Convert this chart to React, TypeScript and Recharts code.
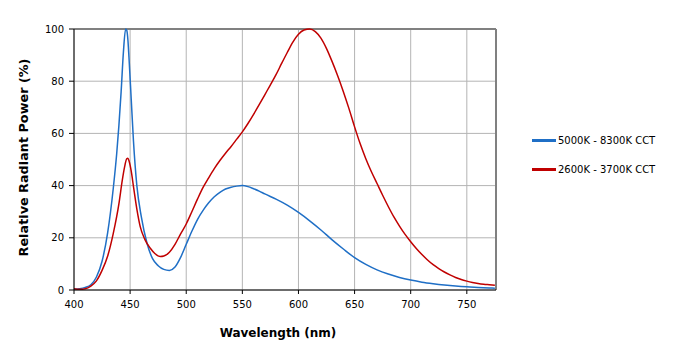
import { LineChart, Line, XAxis, YAxis, CartesianGrid, ReferenceLine } from "recharts"

// wavelength (nm) / relative power (%)
const coolNm = [400, 405, 410, 415, 420, 425, 430, 435, 438, 440, 442, 444, 446, 447, 448, 449, 451, 453, 456, 460, 465, 470, 475, 480, 485, 490, 495, 500, 505, 510, 515, 520, 525, 530, 535, 540, 545, 550, 555, 560, 565, 570, 580, 590, 600, 610, 620, 630, 640, 650, 660, 670, 680, 690, 700, 710, 720, 730, 740, 750, 760, 770, 775]
const coolPower = [0.3, 0.5, 1, 2, 5, 11, 22, 39, 52, 63, 76, 91, 100, 99.5, 96, 89, 73, 57, 40, 28, 18, 12, 9.3, 7.9, 7.5, 8.8, 12.5, 17.5, 22.5, 27, 30.5, 33.4, 35.7, 37.4, 38.7, 39.4, 39.8, 40, 39.6, 38.8, 37.9, 36.8, 34.8, 32.5, 29.7, 26.5, 23, 19.2, 15.7, 12.4, 9.8, 7.7, 6.1, 4.8, 3.8, 3, 2.4, 1.9, 1.5, 1.2, 1, 0.8, 0.7]

const warmNm = [400, 405, 410, 415, 420, 425, 430, 435, 440, 443, 445, 447, 448, 449, 451, 453, 456, 459, 463, 468, 472, 477, 480, 485, 490, 495, 500, 505, 510, 515, 520, 525, 530, 535, 540, 545, 550, 555, 560, 565, 570, 575, 580, 585, 590, 595, 600, 605, 610, 615, 620, 625, 630, 635, 640, 645, 650, 655, 660, 665, 670, 675, 680, 685, 690, 695, 700, 705, 710, 715, 720, 725, 730, 735, 740, 745, 750, 755, 760, 765, 770, 775]
const warmPower = [0.5, 0.3, 0.5, 1.5, 3.5, 7.5, 13, 21.7, 33, 42, 47, 50.3, 50.5, 49.5, 45.5, 39.6, 31, 24.3, 19.5, 16, 14, 12.8, 13, 14.5, 17.5, 21.5, 25.3, 30, 34.8, 39.3, 43, 46.5, 49.6, 52.4, 55, 57.8, 60.6, 63.8, 67.3, 71, 74.8, 78.6, 82.5, 86.8, 91, 95, 98, 99.6, 100, 99, 96.5, 92.5, 87.5, 82, 76, 69.5, 62.5, 56, 50.3, 45.3, 40.8, 36.3, 32, 28, 24.5, 21.3, 18.5, 15.9, 13.6, 11.5, 9.7, 8.2, 6.9, 5.8, 4.8, 4, 3.4, 2.9, 2.5, 2.2, 2, 1.8]

const xTicks = [400, 450, 500, 550, 600, 650, 700, 750]
const yTicks = [0, 20, 40, 60, 80, 100]

const series = [
  { name: "5000K - 8300K CCT", color: "#1f6fc6", nm: coolNm, power: coolPower },
  { name: "2600K - 3700K CCT", color: "#c00000", nm: warmNm, power: warmPower },
]

const font = "'DejaVu Sans', Verdana, sans-serif"

// legend sits beside the plot, so it is drawn as an overlay rather than via <Legend>
function LegendBox() {
  return (
    <div style={{ position: "absolute", left: 532, top: 126, fontFamily: font, fontSize: 10, color: "#000" }}>
      {series.map((s) => (
        <div key={s.name} style={{ display: "flex", alignItems: "center", height: 29 }}>
          <span style={{ display: "inline-block", width: 24, height: 3, background: s.color, marginRight: 2 }} />
          <span>{s.name}</span>
        </div>
      ))}
    </div>
  )
}

export default function App() {
  return (
    <div style={{ position: "absolute", left: 0, top: 0, width: 677, height: 361, background: "#fff" }}>
      <LineChart width={677} height={361} margin={{ top: 29, right: 181, bottom: 0, left: 0 }}>
        <CartesianGrid stroke="#b4b4b4" strokeWidth={1} />
        <XAxis
          type="number"
          dataKey="nm"
          domain={[400, 776]}
          ticks={xTicks}
          allowDuplicatedCategory={false}
          height={71}
          stroke="#000"
          tickSize={4}
          tickMargin={7}
          tick={{ fill: "#000", fontSize: 10, fontFamily: font }}
          label={{ value: "Wavelength (nm)", position: "center", dx: -7, dy: 7, style: { fontFamily: font, fontSize: 12, fontWeight: "bold", fill: "#000" } }}
        />
        <YAxis
          type="number"
          domain={[0, 100]}
          ticks={yTicks}
          width={74}
          stroke="#000"
          tickSize={5}
          tickMargin={5}
          tick={{ fill: "#000", fontSize: 10, fontFamily: font }}
          label={{ value: "Relative Radiant Power (%)", angle: -90, position: "center", dx: -14, dy: -2, style: { fontFamily: font, fontSize: 12.8, fontWeight: "bold", fill: "#000" } }}
        />
        <ReferenceLine y={100} stroke="#808080" strokeWidth={2} />
        <ReferenceLine x={776} stroke="#808080" strokeWidth={2} />
        {series.map((s) => (
          <Line
            key={s.name}
            name={s.name}
            data={s.nm.map((nm, i) => ({ nm, power: s.power[i] }))}
            dataKey="power"
            type="monotone"
            stroke={s.color}
            strokeWidth={1.5}
            dot={false}
            isAnimationActive={false}
          />
        ))}
      </LineChart>
      <LegendBox />
    </div>
  )
}
